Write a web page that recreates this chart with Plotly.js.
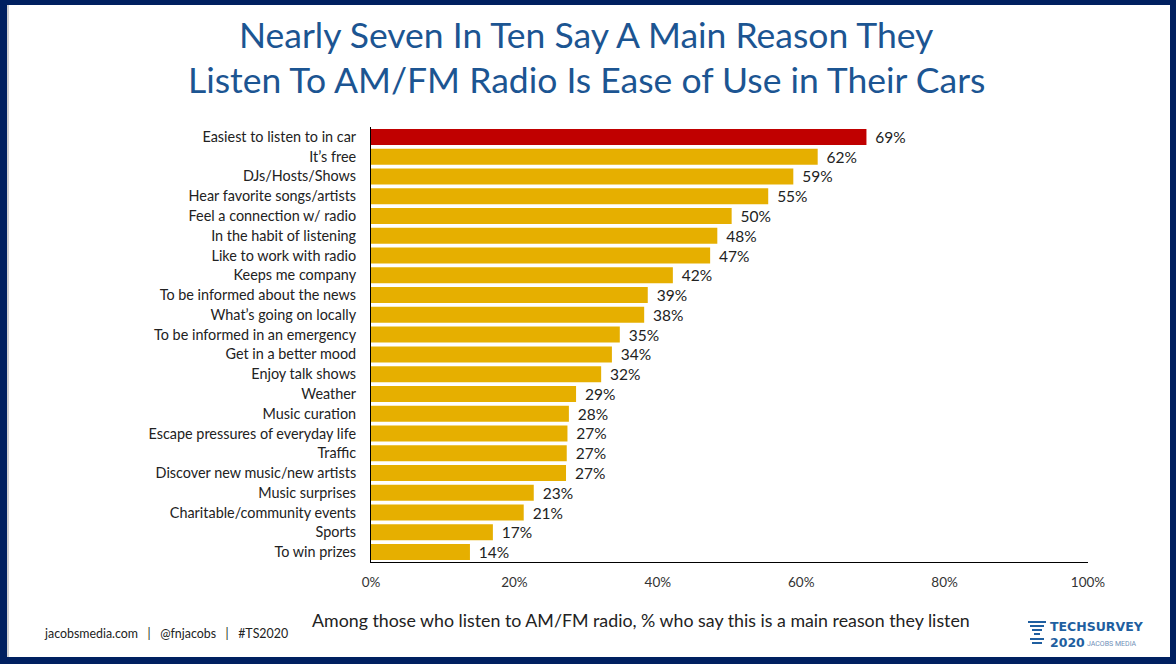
<!DOCTYPE html>
<html>
<head>
<meta charset="utf-8">
<script src="https://cdn.plot.ly/plotly-3.0.1.min.js"></script>
<style>
  html, body { margin: 0; padding: 0; background: #fff; }
  #wrap { position: relative; width: 1176px; height: 664px; overflow: hidden; }
  #chart { position: absolute; left: 0; top: 0; width: 1176px; height: 664px; }
  #frame { position: absolute; left: 0; top: 0; width: 1176px; height: 664px; box-sizing: border-box;
           border-style: solid; border-color: #002060; border-width: 5px 6px 7px 7px; pointer-events: none; }
  #shadow { position: absolute; left: 7px; top: 5px; width: 2px; height: 652px; background: #d0d0d0; pointer-events: none; }
</style>
</head>
<body>
<div id="wrap">
  <div id="chart"></div>
  <div id="frame"></div>
  <div id="shadow"></div>
</div>
<script>
// ---- data ----
const categories = [
  "Easiest to listen to in car",
  "It\u2019s free",
  "DJs/Hosts/Shows",
  "Hear favorite songs/artists",
  "Feel a connection w/ radio",
  "In the habit of listening",
  "Like to work with radio",
  "Keeps me company",
  "To be informed about the news",
  "What\u2019s going on locally",
  "To be informed in an emergency",
  "Get in a better mood",
  "Enjoy talk shows",
  "Weather",
  "Music curation",
  "Escape pressures of everyday life",
  "Traffic",
  "Discover new music/new artists",
  "Music surprises",
  "Charitable/community events",
  "Sports",
  "To win prizes"
];
const values = [69.1, 62.3, 58.9, 55.4, 50.3, 48.3, 47.3, 42.1, 38.6, 38.1, 34.7, 33.6,
                32.1, 28.6, 27.6, 27.4, 27.3, 27.2, 22.7, 21.3, 17.0, 13.8];
const tickValues = [0, 20, 40, 60, 80, 100];
const tickLabels = ["0%", "20%", "40%", "60%", "80%", "100%"];
const titleLine1 = "Nearly Seven In Ten Say A Main Reason They";
const titleLine2 = "Listen To AM/FM Radio Is Ease of Use in Their Cars";
const subtitle = "Among those who listen to AM/FM radio, % who say this is a main reason they listen";
const footerParts = ["jacobsmedia.com", "@fnjacobs", "#TS2020"];

// ---- styling ----
const RED = "#C00000", GOLD = "#E6AF00", BLUE = "#1C5592", LOGO = "#1F5FA0";
const FONT = "Lato, 'Open Sans', sans-serif";
const W = 1176, H = 664, L = 371, R = 88, T = 127, B = 102;
const PW = W - L - R, PH = H - T - B;
const px = x => (x - L) / PW;          // pixel -> paper x
const py = y => (H - B - y) / PH;      // pixel -> paper y

const colors = categories.map((c, i) => i === 0 ? RED : GOLD);
const labels = values.map(v => "\u00a0\u2009" + Math.round(v) + "%");

const trace = {
  type: "bar", orientation: "h",
  x: values, y: categories,
  marker: { color: colors, line: { width: 0 } },
  text: labels, textposition: "outside", cliponaxis: false, constraintext: "none",
  textfont: { family: FONT, size: 15.5, color: "#222" },
  hoverinfo: "none"
};

function ann(text, x, y, size, color, opts) {
  return Object.assign({ text, x: px(x), y: py(y), xref: "paper", yref: "paper",
    showarrow: false, font: { family: FONT, size, color }, xanchor: "center", yanchor: "middle" }, opts || {});
}

const LOGOFONT = "'DejaVu Sans', sans-serif";
const sep = "&nbsp;&nbsp;&nbsp;|&nbsp;&nbsp;&nbsp;";
const annotations = [
  ann(titleLine1, 586, 35, 35.5, BLUE),
  ann(titleLine2, 586, 80, 35.5, BLUE),
  ann(subtitle, 641, 620, 17.8, "#222"),
  ann(footerParts.join(sep), 42, 633, 12.4, "#222", { xanchor: "left" }),
  ann("<b>TECHSURVEY</b>", 1048, 626, 12.5, LOGO, { xanchor: "left", font: { family: LOGOFONT, size: 12.5, color: LOGO } }),
  ann("<b>2020</b>", 1048, 642.5, 12.5, LOGO, { xanchor: "left", font: { family: LOGOFONT, size: 12.5, color: LOGO } }),
  ann("JACOBS MEDIA", 1085, 644, 7, "#6f8fb8", { xanchor: "left", font: { family: "Roboto, sans-serif", size: 7, color: "#6f8fb8" } })
];

function hline(x0, x1, y, w) {
  return { type: "line", xref: "paper", yref: "paper", x0: px(x0), x1: px(x1), y0: py(y), y1: py(y),
           line: { color: LOGO, width: w || 2 } };
}
const shapes = [
  hline(1028, 1046, 622), hline(1030, 1044, 626), hline(1032, 1042, 630), hline(1034, 1040, 634),
  hline(1030, 1044, 639), hline(1032, 1042, 643)
];

const layout = {
  width: W, height: H,
  margin: { l: L, r: R, t: T, b: B, pad: 0 },
  paper_bgcolor: "#fff", plot_bgcolor: "#fff",
  showlegend: false,
  bargap: 0.19,
  xaxis: {
    range: [0, 100], tickvals: tickValues, ticktext: tickLabels,
    showgrid: false, zeroline: false, showline: true, linecolor: "#000", linewidth: 1,
    ticks: "", ticklabelstandoff: 8,
    tickfont: { family: FONT, size: 13.5, color: "#333" }, fixedrange: true
  },
  yaxis: {
    autorange: "reversed", type: "category",
    showgrid: false, zeroline: false, showline: true, linecolor: "#000", linewidth: 1,
    ticks: "", ticklabelstandoff: 11,
    tickfont: { family: FONT, size: 14.4, color: "#222" }, fixedrange: true
  },
  annotations, shapes
};

Plotly.newPlot("chart", [trace], layout, { displayModeBar: false, staticPlot: true });
</script>
</body>
</html>
